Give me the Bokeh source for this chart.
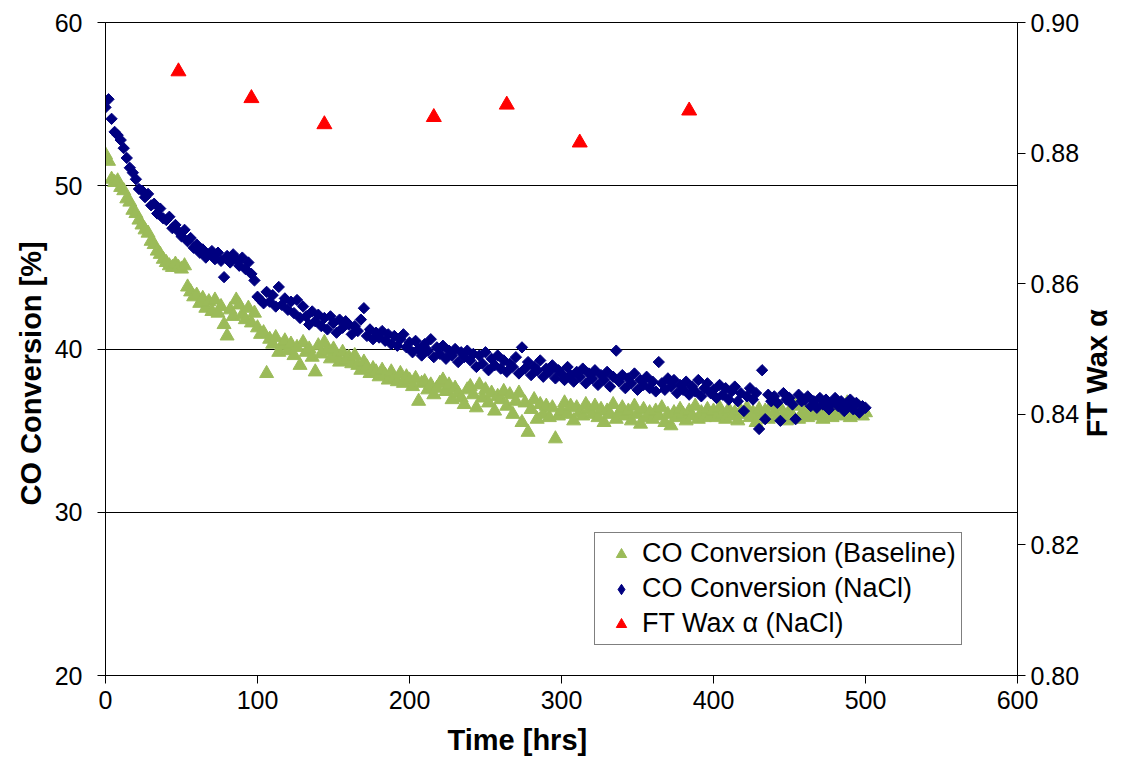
import math
from bokeh.plotting import figure
from bokeh.models import Range1d, LinearAxis, Legend, LegendItem, FixedTicker, Title
from bokeh.embed import file_html
from bokeh.resources import INLINE

# ---------------- data ----------------
time_hrs = [
    0, 2, 4, 6, 8, 10, 12, 14, 16, 18,
    20, 22, 24, 26, 28, 30, 32, 34, 36, 38,
    40, 42, 44, 46, 48, 50, 52, 54, 56, 58,
    60, 62, 64, 66, 68, 70, 72, 74, 76, 78,
    80, 82, 84, 86, 88, 90, 92, 94, 96, 98,
    100, 102, 104, 106, 108, 110, 112, 114, 116, 118,
    120, 122, 124, 126, 128, 130, 132, 134, 136, 138,
    140, 142, 144, 146, 148, 150, 152, 154, 156, 158,
    160, 162, 164, 166, 168, 170, 172, 174, 176, 178,
    180, 182, 184, 186, 188, 190, 192, 194, 196, 198,
    200, 202, 204, 206, 208, 210, 212, 214, 216, 218,
    220, 222, 224, 226, 228, 230, 232, 234, 236, 238,
    240, 242, 244, 246, 248, 250, 252, 254, 256, 258,
    260, 262, 264, 266, 268, 270, 272, 274, 276, 278,
    280, 282, 284, 286, 288, 290, 292, 294, 296, 298,
    300, 302, 304, 306, 308, 310, 312, 314, 316, 318,
    320, 322, 324, 326, 328, 330, 332, 334, 336, 338,
    340, 342, 344, 346, 348, 350, 352, 354, 356, 358,
    360, 362, 364, 366, 368, 370, 372, 374, 376, 378,
    380, 382, 384, 386, 388, 390, 392, 394, 396, 398,
    400, 402, 404, 406, 408, 410, 412, 414, 416, 418,
    420, 422, 424, 426, 428, 430, 432, 434, 436, 438,
    440, 442, 444, 446, 448, 450, 452, 454, 456, 458,
    460, 462, 464, 466, 468, 470, 472, 474, 476, 478,
    480, 482, 484, 486, 488, 490, 492, 494, 496, 498,
    500,
]

co_conv_baseline = [
    51.9, 51.5, 50.4, 50.2, 50.3, 49.9, 49.7, 49.2, 49.0, 48.5,
    48.3, 47.9, 47.6, 47.3, 47.1, 46.6, 46.4, 46.0, 45.8, 45.5,
    45.3, 45.1, 45.0, 45.2, 45.0, 44.9, 45.1, 43.8, 43.5, 43.2,
    43.3, 42.8, 43.1, 42.5, 42.9, 42.3, 43.0, 42.2, 42.6, 41.5,
    40.8, 42.4, 42.0, 43.0, 42.7, 42.1, 41.8, 42.5, 41.6, 42.2,
    41.3, 40.9, 41.0, 38.5, 40.6, 40.3, 40.7, 39.8, 40.2, 40.5,
    39.9, 40.3, 39.6, 40.1, 39.0, 40.4, 39.8, 40.0, 39.5, 38.6,
    40.2, 39.7, 40.4, 39.9, 39.4, 40.0, 39.6, 39.2, 39.8, 39.3,
    39.5, 39.1, 39.6, 39.0, 38.7, 39.2, 38.9, 38.5, 38.8, 38.6,
    38.3, 38.7, 38.4, 38.1, 38.6, 38.2, 38.0, 38.5, 37.9, 38.3,
    38.1, 37.7, 38.2, 36.8, 37.9, 38.0, 37.5, 37.8, 37.2, 37.6,
    37.9, 38.1, 37.4, 37.8, 36.9, 37.6, 37.3, 37.0, 36.6, 37.5,
    37.7, 37.2, 36.4, 37.8, 37.0, 37.5, 36.7, 37.3, 36.2, 37.1,
    36.9, 37.4, 36.5, 37.2, 36.0, 36.8, 37.3, 35.5, 36.7, 34.9,
    36.3, 36.9, 35.7, 36.6, 36.0, 36.5, 35.8, 36.4, 34.5, 35.9,
    36.2, 36.7, 36.0, 36.5, 35.6, 36.4, 36.1, 35.9, 36.6, 36.3,
    36.0, 36.5, 35.8, 36.3, 35.5, 36.2, 36.0, 36.6, 35.7, 36.1,
    36.4, 35.9, 36.2, 35.6, 36.5, 36.0, 35.4, 36.3, 35.8, 36.1,
    35.7, 36.2, 35.9, 36.4, 35.5, 36.0, 35.3, 36.1, 35.8, 36.3,
    36.0, 35.6, 36.2, 35.9, 36.5, 35.7, 36.1, 35.8, 36.3, 35.9,
    36.2, 35.8, 36.4, 36.0, 35.7, 36.3, 35.9, 36.1, 35.6, 36.2,
    36.0, 36.4, 35.8, 36.1, 35.5, 36.3, 35.9, 36.2, 35.7, 36.5,
    36.1, 35.8, 36.4, 36.0, 35.6, 36.2, 35.9, 36.5, 35.7, 36.0,
    36.3, 35.8, 36.1, 36.6, 35.9, 36.2, 35.7, 36.0, 36.4, 35.8,
    36.1, 36.5, 35.9, 36.2, 36.7, 35.8, 36.3, 36.0, 36.4, 35.9,
    36.1,
]

co_conv_nacl = [
    54.8, 55.3, 54.1, 53.3, 53.1, 52.8, 52.3, 51.7, 51.1, 50.8,
    50.4, 49.8, 49.7, 49.3, 49.5, 48.8, 48.9, 48.3, 48.6, 48.0,
    47.9, 48.1, 47.4, 47.6, 47.2, 46.9, 47.3, 46.6, 46.8, 46.2,
    46.4, 45.9, 46.1, 45.6, 45.8, 46.0, 45.5, 45.9, 45.4, 44.4,
    45.7, 45.3, 45.8, 45.5, 45.1, 45.6, 44.9, 45.3, 44.6, 44.2,
    43.2, 43.0, 42.8, 43.5, 42.9, 43.3, 42.6, 43.8, 42.7, 43.1,
    42.4, 42.9, 42.2, 43.0, 41.9, 42.6, 42.0, 41.5, 42.3, 41.7,
    42.1, 41.4, 41.9, 41.2, 42.0, 41.6, 41.0, 41.8, 41.3, 41.7,
    41.5, 40.9, 41.4, 41.1, 41.8, 42.5, 40.8, 41.2, 40.6, 41.0,
    40.7, 41.1, 40.5, 40.9, 40.3, 40.8, 40.2, 40.6, 40.9, 40.1,
    40.4, 39.8, 40.5, 40.0, 39.6, 40.3, 39.9, 40.6, 39.5, 40.1,
    39.7, 40.2, 39.4, 39.9, 39.6, 40.0, 39.2, 39.8, 39.5, 39.9,
    39.3, 39.7, 38.9, 39.6, 39.1, 39.8, 38.7, 39.4, 39.0, 39.6,
    38.8, 39.3, 38.6, 39.1, 38.9, 39.5, 38.5, 40.1, 38.8, 39.2,
    38.4, 38.9, 38.7, 39.3, 38.3, 38.8, 38.6, 39.0, 38.2, 38.7,
    38.5, 38.1, 38.9, 38.4, 38.0, 38.6, 38.3, 38.8, 37.9, 38.5,
    38.2, 38.7, 37.8, 38.4, 38.1, 38.6, 37.7, 38.3, 39.9, 38.0,
    38.4, 37.6, 38.2, 37.9, 38.5, 37.5, 38.1, 37.8, 38.3, 37.6,
    38.0, 37.4, 39.2, 37.9, 37.5, 38.2, 37.7, 38.1, 37.3, 37.8,
    37.5, 38.0, 37.2, 37.7, 37.4, 38.1, 37.1, 37.6, 37.9, 37.3,
    37.5, 37.0, 37.8, 37.2, 37.6, 36.9, 37.4, 37.7, 36.8, 37.3,
    36.2, 37.1, 37.6, 36.9, 37.3, 35.1, 38.7, 35.7, 37.2, 36.8,
    37.1, 36.7, 35.6, 37.3, 36.9, 37.0, 36.6, 35.7, 37.2, 36.8,
    36.9, 37.1, 36.5, 36.8, 36.4, 37.0, 36.6, 36.9, 36.3, 36.7,
    37.0, 36.5, 36.8, 36.2, 36.6, 36.9, 36.3, 36.7, 36.1, 36.5,
    36.4,
]

alpha_time_hrs = [48, 96, 144, 216, 264, 312, 384]
ft_wax_alpha_nacl = [0.8925, 0.8884, 0.8844, 0.8855, 0.8874, 0.8816, 0.8865]

x_ticks = [0, 100, 200, 300, 400, 500, 600]
y_ticks = [20, 30, 40, 50, 60]
grid_ticks = [30, 40, 50]
alpha_ticks = [0.80, 0.82, 0.84, 0.86, 0.88, 0.90]
alpha_tick_labels = ["0.80", "0.82", "0.84", "0.86", "0.88", "0.90"]

series_names = ["CO Conversion (Baseline)", "CO Conversion (NaCl)", "FT Wax \u03b1 (NaCl)"]
x_title = "Time [hrs]"
y_title = "CO Conversion [%]"
y2_title = "FT Wax \u03b1"

# ---------------- styling ----------------
FONT = "Liberation Sans"
GREEN = "#9BBB59"
NAVY = "#000080"
RED = "#FF0000"
Y2_TITLE_START = 0.8365   # where the rotated right-hand title begins (on the alpha scale)

p = figure(
    width=1136, height=765,
    x_range=Range1d(0, 600), y_range=Range1d(20, 60),
    output_backend="svg", toolbar_location=None,
    min_border_left=105, min_border_right=119,
    min_border_top=22, min_border_bottom=90,
    background_fill_color="white", border_fill_color="white",
)
p.extra_y_ranges = {"alpha": Range1d(0.80, 0.90)}

p.outline_line_color = "black"
p.outline_line_width = 1
p.xgrid.visible = False
p.ygrid.ticker = FixedTicker(ticks=grid_ticks)
p.ygrid.grid_line_color = "black"
p.ygrid.grid_line_alpha = 1.0
p.ygrid.grid_line_width = 1

def style_axis(ax, standoff):
    ax.axis_line_color = "black"
    ax.axis_line_width = 1
    ax.major_tick_line_color = "black"
    ax.major_tick_in = 0
    ax.major_tick_out = 8
    ax.minor_tick_line_color = None
    ax.major_label_text_font = FONT
    ax.major_label_text_font_size = "25px"
    ax.major_label_text_color = "black"
    ax.major_label_standoff = standoff

p.xaxis.ticker = FixedTicker(ticks=x_ticks)
style_axis(p.xaxis[0], 7)

p.yaxis.ticker = FixedTicker(ticks=y_ticks)
style_axis(p.yaxis[0], 15)

y2 = LinearAxis(y_range_name="alpha")
y2.ticker = FixedTicker(ticks=alpha_ticks)
y2.major_label_overrides = {t: s for t, s in zip(alpha_ticks, alpha_tick_labels)}
style_axis(y2, 5)
p.add_layout(y2, "right")

# right-hand title: a bare axis whose single label is the rotated title text
y2t = LinearAxis(y_range_name="alpha")
y2t.ticker = FixedTicker(ticks=[Y2_TITLE_START])
y2t.major_label_overrides = {Y2_TITLE_START: y2_title}
y2t.major_label_orientation = math.pi / 2
y2t.axis_line_color = None
y2t.major_tick_line_color = None
y2t.minor_tick_line_color = None
y2t.major_tick_in = 0
y2t.major_tick_out = 0
y2t.major_label_standoff = 15
y2t.major_label_text_font = FONT
y2t.major_label_text_font_size = "29px"
y2t.major_label_text_font_style = "bold"
y2t.major_label_text_color = "black"
p.add_layout(y2t, "right")

def side_title(text, align, offset, standoff):
    return Title(text=text, align=align, offset=offset, standoff=standoff,
                 text_font=FONT, text_font_size="29px", text_font_style="bold",
                 text_color="black")

p.add_layout(side_title(x_title, "left", 342, 20), "below")
p.add_layout(side_title(y_title, "left", 170, 10), "left")

r_base = p.scatter(time_hrs, co_conv_baseline, marker="triangle", size=14,
                   fill_color=GREEN, line_color=GREEN)
r_nacl = p.scatter(time_hrs, co_conv_nacl, marker="square", angle=math.pi / 4, size=8,
                   fill_color=NAVY, line_color=NAVY)
r_alpha = p.scatter(alpha_time_hrs, ft_wax_alpha_nacl, marker="triangle", size=15,
                    fill_color=RED, line_color=RED, y_range_name="alpha")
# hidden copy of the NaCl series, used only for its small diamond legend key
r_nacl_key = p.scatter(time_hrs, co_conv_nacl, marker="diamond", size=11,
                       fill_color=NAVY, line_color=NAVY, visible=False)

legend = Legend(
    items=[
        LegendItem(label=series_names[0], renderers=[r_base]),
        LegendItem(label=series_names[1], renderers=[r_nacl_key]),
        LegendItem(label=series_names[2], renderers=[r_alpha]),
    ],
    location=(489, 30),
    border_line_color="black", border_line_width=1,
    background_fill_color="white", background_fill_alpha=1.0,
    inactive_fill_alpha=0.0,
    label_text_font=FONT, label_text_font_size="27px", label_text_color="black",
    padding=5, spacing=4, margin=0,
    glyph_width=42, glyph_height=26, label_height=26, label_standoff=0,
)
p.add_layout(legend)

open("out.html", "w").write(file_html(p, INLINE))
